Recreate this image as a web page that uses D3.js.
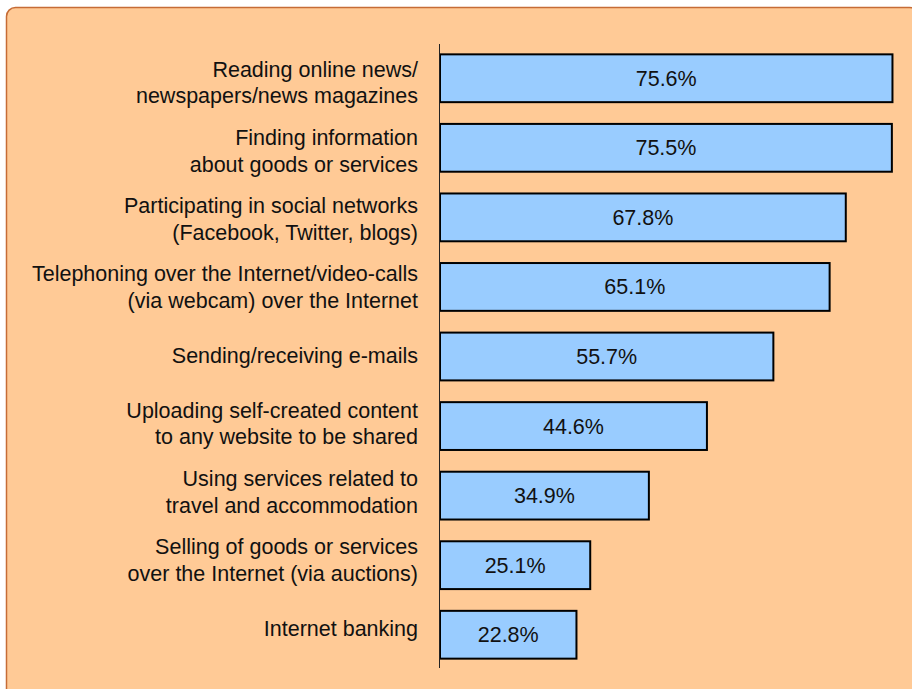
<!DOCTYPE html>
<html>
<head>
<meta charset="utf-8">
<script src="https://cdn.jsdelivr.net/npm/d3@7"></script>
<style>
  html, body { margin: 0; padding: 0; background: #ffffff; }
  svg { display: block; }
  text { font-family: "Liberation Sans", Arial, sans-serif; fill: #111; }
</style>
</head>
<body>
<svg id="chart" width="912" height="689"></svg>
<script>
// Internet activities, share of users (%)
const activities = [
  ["Reading online news/", "newspapers/news magazines"],
  ["Finding information", "about goods or services"],
  ["Participating in social networks", "(Facebook, Twitter, blogs)"],
  ["Telephoning over the Internet/video-calls", "(via webcam) over the Internet"],
  ["Sending/receiving e-mails"],
  ["Uploading self-created content", "to any website to be shared"],
  ["Using services related to", "travel and accommodation"],
  ["Selling of goods or services", "over the Internet (via auctions)"],
  ["Internet banking"]
];
const shares = [75.6, 75.5, 67.8, 65.1, 55.7, 44.6, 34.9, 25.1, 22.8];

const keys = activities.map((d, i) => i);
const svg = d3.select("#chart");
const fontSize = 21.5;

// Background panel
svg.append("rect")
  .attr("x", 6.5).attr("y", 7.5)
  .attr("width", 912).attr("height", 700)
  .attr("rx", 9).attr("ry", 9)
  .attr("fill", "#ffca96")
  .attr("stroke", "#c66c36")
  .attr("stroke-width", 1.5);

const x = d3.scaleLinear().domain([0, 100]).range([440, 1038.5]);
const y = d3.scaleBand().domain(keys).range([43.5, 669.5])
  .paddingInner(0.3127).paddingOuter(0.156);
// Category labels sit on a slightly tighter grid than the bars
const yLabel = d3.scaleBand().domain(keys).range([48.5, 662.3]).padding(0);

// Bars
svg.append("g").selectAll("rect")
  .data(shares)
  .join("rect")
  .attr("x", x(0))
  .attr("y", (d, i) => y(i))
  .attr("width", d => x(d) - x(0))
  .attr("height", y.bandwidth())
  .attr("fill", "#99ccff")
  .attr("stroke", "#000")
  .attr("stroke-width", 2);

// Vertical axis line
svg.append("line")
  .attr("x1", x(0) - 0.5).attr("x2", x(0) - 0.5)
  .attr("y1", 44).attr("y2", 668)
  .attr("stroke", "#222").attr("stroke-width", 1);

// Value labels
svg.append("g").selectAll("text")
  .data(shares)
  .join("text")
  .attr("x", d => (x(0) + x(d)) / 2)
  .attr("y", (d, i) => y(i) + y.bandwidth() / 2)
  .attr("dy", "0.35em")
  .attr("text-anchor", "middle")
  .attr("font-size", fontSize)
  .text(d => d.toFixed(1) + "%");

// Category labels
const lineH = 26.5;
const lab = svg.append("g").selectAll("text")
  .data(activities)
  .join("text")
  .attr("text-anchor", "end")
  .attr("font-size", fontSize);
lab.each(function(lines, i) {
  const cy = yLabel(i) + yLabel.bandwidth() / 2;
  const t = d3.select(this);
  lines.forEach((s, j) => {
    t.append("tspan")
      .attr("x", 418)
      .attr("y", cy + (j - (lines.length - 1) / 2) * lineH)
      .attr("dy", "0.35em")
      .text(s);
  });
});
</script>
</body>
</html>
